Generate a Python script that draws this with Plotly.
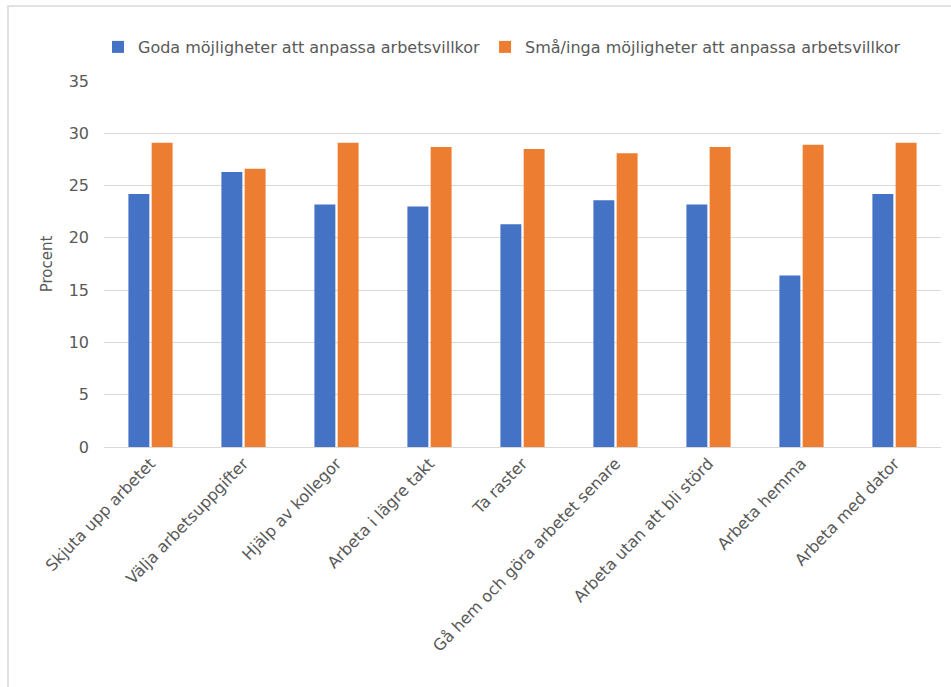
import plotly.graph_objects as go

# Categories and percentages per group
categories = [
    "Skjuta upp arbetet",
    "Välja arbetsuppgifter",
    "Hjälp av kollegor",
    "Arbeta i lägre takt",
    "Ta raster",
    "Gå hem och göra arbetet senare",
    "Arbeta utan att bli störd",
    "Arbeta hemma",
    "Arbeta med dator",
]
series_names = [
    "Goda möjligheter att anpassa arbetsvillkor",
    "Små/inga möjligheter att anpassa arbetsvillkor",
]
goda = [24.2, 26.3, 23.2, 23.0, 21.3, 23.6, 23.2, 16.4, 24.2]
sma = [29.1, 26.6, 29.1, 28.7, 28.5, 28.1, 28.7, 28.9, 29.1]
y_ticks = [0, 5, 10, 15, 20, 25, 30, 35]

BLUE = "#4472C4"
ORANGE = "#ED7D31"
TEXT = "#595959"
GRID = "#D9D9D9"
FONT = "'DejaVu Sans', sans-serif"

fig = go.Figure()
fig.add_trace(go.Bar(x=categories, y=goda, name=series_names[0],
                     marker=dict(color=BLUE, line=dict(width=0))))
fig.add_trace(go.Bar(x=categories, y=sma, name=series_names[1],
                     marker=dict(color=ORANGE, line=dict(width=0))))

W, H = 951, 687
L, R, T, B = 104, 10, 81, 240
pw, ph = W - L - R, H - T - B


def px_to_paper_x(px):
    return (px - L) / pw


def px_to_paper_y(py):
    return (H - B - py) / ph


# chart-area outline
fig.add_shape(type="rect", xref="paper", yref="paper",
              x0=px_to_paper_x(8), x1=px_to_paper_x(990),
              y0=px_to_paper_y(760), y1=px_to_paper_y(6),
              line=dict(color="#D9D9D9", width=1.5), fillcolor="rgba(0,0,0,0)",
              layer="below")

fig.update_layout(
    width=W, height=H,
    margin=dict(l=L, r=R, t=T, b=B, pad=0),
    paper_bgcolor="white", plot_bgcolor="white",
    barmode="group", bargap=0.5, bargroupgap=0.1,
    font=dict(family=FONT, color=TEXT, size=14),
    legend=dict(orientation="h", x=px_to_paper_x(502), xanchor="center",
                y=px_to_paper_y(47), yanchor="middle",
                font=dict(size=16, color=TEXT), itemwidth=30,
                tracegroupgap=0, bgcolor="rgba(0,0,0,0)"),
    xaxis=dict(tickangle=-46, showgrid=False, showline=True,
               linecolor=GRID, linewidth=1, ticks="",
               tickfont=dict(size=16, color=TEXT)),
    yaxis=dict(range=[0, 35], tickvals=y_ticks, showgrid=True,
               gridcolor=GRID, gridwidth=1, zeroline=False,
               showline=False, ticks="", ticklen=0,
               ticklabelstandoff=14,
               tickfont=dict(size=16, color=TEXT),
               title=dict(text="Procent", font=dict(size=15, color=TEXT),
                          standoff=12)),
)

fig.write_html("out.html")
